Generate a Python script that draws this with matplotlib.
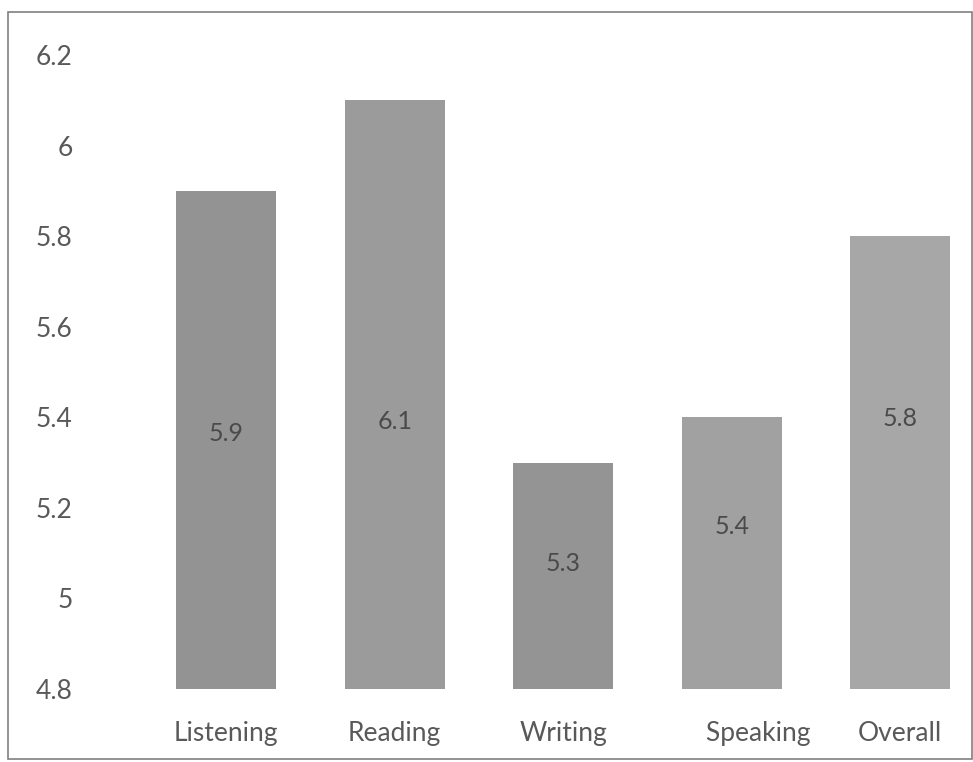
import matplotlib
matplotlib.use("Agg")
import matplotlib.pyplot as plt
from matplotlib.patches import Rectangle

# the Speaking category carries leading blanks in the source chart
categories = ["Listening", "Reading", "Writing", "        Speaking", "Overall"]
scores = [5.9, 6.1, 5.3, 5.4, 5.8]
score_labels = ["5.9", "6.1", "5.3", "5.4", "5.8"]
label_heights = [5.365, 5.39, 5.078, 5.158, 5.398]
y_ticks = [4.8, 5.0, 5.2, 5.4, 5.6, 5.8, 6.0, 6.2]
y_tick_labels = ["4.8", "5", "5.2", "5.4", "5.6", "5.8", "6", "6.2"]
bar_colors = ["#939393", "#9b9b9b", "#949494", "#a1a1a1", "#a7a7a7"]

plt.rcParams["font.family"] = ["Lato", "DejaVu Sans"]

W, H = 973, 762
fig = plt.figure(figsize=(W / 100, H / 100), dpi=100)

# axes placed in pixel terms: left edge 142, right edge at figure edge
ax = fig.add_axes([142 / W, (H - 689) / H, (W - 142) / W, (689 - 55) / H])

base = 4.8
x = list(range(len(categories)))
ax.bar(x, [s - base for s in scores], bottom=base, width=0.593,
       color=bar_colors, edgecolor="none")

for xi, lab, yl in zip(x, score_labels, label_heights):
    ax.text(xi, yl, lab, ha="center", va="center", fontsize=18, color="#4a4a4a")

ax.set_xlim(-0.5, -0.5 + (W - 142) / 168.5)
ax.set_ylim(4.8, 6.2)
ax.set_yticks(y_ticks)
ax.set_yticklabels(y_tick_labels)
ax.set_xticks(x)
ax.set_xticklabels(categories)
ax.tick_params(axis="y", length=0, pad=50, labelsize=19, labelcolor="#595959")
ax.tick_params(axis="x", length=0, pad=23, labelsize=19, labelcolor="#595959")
for sp in ax.spines.values():
    sp.set_visible(False)

# outer border of the chart
fig.patches.append(Rectangle((8 / W, (H - 759) / H), (972 - 8) / W, (759 - 12) / H,
                             transform=fig.transFigure, fill=False,
                             edgecolor="#808080", linewidth=1.2))

fig.savefig("out.png", dpi=100)
